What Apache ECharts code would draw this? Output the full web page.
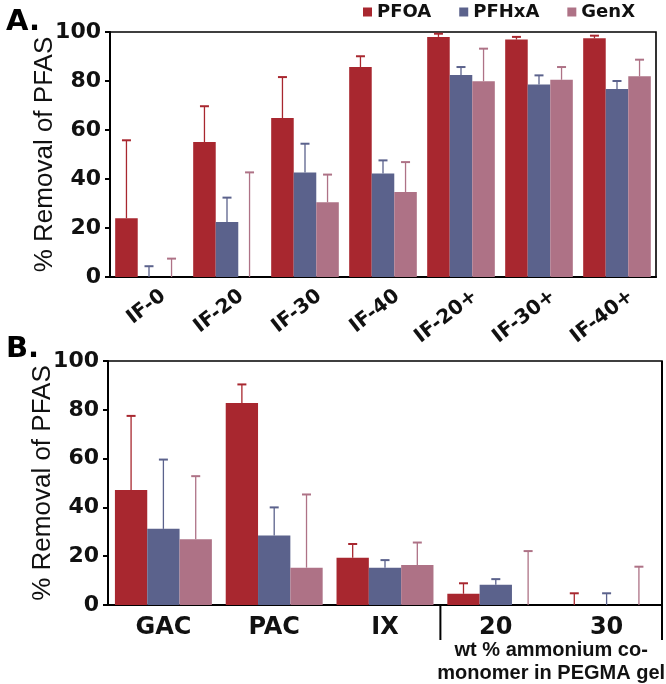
<!DOCTYPE html>
<html><head><meta charset="utf-8">
<script src="https://cdn.jsdelivr.net/npm/echarts@6/dist/echarts.min.js"></script>
<style>html,body{margin:0;padding:0;background:#fff}#c{width:666px;height:684px}</style>
</head><body><div id="c"></div>
<script>
const seriesNames = ['PFOA', 'PFHxA', 'GenX'];
const colors = ['#a8272f', '#5b628c', '#ae7286'];

// Panel A
const categoriesA = ['IF-0', 'IF-20', 'IF-30', 'IF-40', 'IF-20+', 'IF-30+', 'IF-40+'];
const pfoaA = [24, 55.1, 64.9, 85.7, 98, 96.9, 97.4];
const pfhxaA = [0, 22.4, 42.7, 42.2, 82.4, 78.6, 76.7];
const genxA = [0, 0, 30.5, 34.7, 79.9, 80.5, 81.9];
const pfoaErrA = [31.8, 14.6, 16.7, 4.4, 1.3, 1.1, 1.1];
const pfhxaErrA = [4.4, 10, 11.7, 5.4, 3.3, 3.7, 3.3];
const genxErrA = [7.5, 42.7, 11.3, 12.2, 13.3, 5.2, 6.8];

// Panel B
const categoriesB = ['GAC', 'PAC', 'IX', '20', '30'];
const pfoaB = [47.1, 82.8, 19.4, 4.6, 0];
const pfhxaB = [31.2, 28.5, 15.3, 8.3, 0];
const genxB = [26.9, 15.3, 16.4, 0, 0];
const pfoaErrB = [30.4, 7.6, 5.6, 4.3, 4.8];
const pfhxaErrB = [28.4, 11.5, 3.1, 2.3, 4.8];
const genxErrB = [25.9, 30, 9.2, 22.1, 15.7];

const yTicks = [0, 20, 40, 60, 80, 100];
const captionLines = ['wt % ammonium co-', 'monomer in PEGMA gel'];

const gapA = 0.133, gapB = 0.125;
const boldWide = 'DejaVu Sans';

function errRender(sIdx, gap) {
  return function (params, api) {
    const x = api.value(0), v = api.value(1), e = api.value(2);
    const base = api.coord([x, v]);
    const top = api.coord([x, v + e]);
    const band = api.size([1, 0])[0];
    const bw = band * (1 - gap) / 3;
    const cx = base[0] + (sIdx - 1) * bw;
    const hw = 4.5;
    return { type: 'group', children: [
      { type: 'line', shape: { x1: cx, y1: base[1], x2: cx, y2: top[1] }, style: { stroke: colors[sIdx], lineWidth: 1.3 } },
      { type: 'line', shape: { x1: cx - hw, y1: top[1], x2: cx + hw, y2: top[1] }, style: { stroke: colors[sIdx], lineWidth: 2 } }
    ] };
  };
}

const valsA = [pfoaA, pfhxaA, genxA], errsA = [pfoaErrA, pfhxaErrA, genxErrA];
const valsB = [pfoaB, pfhxaB, genxB], errsB = [pfoaErrB, pfhxaErrB, genxErrB];

const series = [];
[0, 1].forEach(function (p) {
  const vals = p === 0 ? valsA : valsB;
  const errs = p === 0 ? errsA : errsB;
  const gap = p === 0 ? gapA : gapB;
  seriesNames.forEach(function (n, i) {
    series.push({
      name: 'err' + p + i, type: 'custom', xAxisIndex: p, yAxisIndex: p,
      renderItem: errRender(i, gap), encode: { x: 0, y: 1 }, z: 1,
      data: vals[i].map(function (v, k) { return [k, v, errs[i][k]]; }),
      silent: true
    });
  });
  seriesNames.forEach(function (n, i) {
    series.push({
      name: n, type: 'bar', xAxisIndex: p, yAxisIndex: p, z: 2,
      barGap: 0, barCategoryGap: (gap * 100) + '%',
      itemStyle: { color: colors[i] },
      data: vals[i]
    });
  });
});

function yAxis(gridIndex) {
  return {
    type: 'value', gridIndex: gridIndex, min: yTicks[0], max: yTicks[yTicks.length - 1], interval: 20,
    name: '% Removal of PFAS', nameLocation: 'middle', nameGap: 52, nameMoveOverlap: false,
    nameTextStyle: { fontFamily: 'Liberation Sans', fontSize: 26, color: '#111' },
    axisLine: { show: true, lineStyle: { color: '#000', width: 2 } },
    axisTick: { show: true, length: 5, lineStyle: { color: '#000', width: 2 } },
    axisLabel: { fontFamily: boldWide, fontWeight: 'bold', fontSize: 22, color: '#111', margin: 9 },
    splitLine: { show: false }
  };
}

const option = {
  animation: false,
  backgroundColor: '#fff',
  title: [
    { text: 'A.', left: 1, top: 3, textStyle: { fontFamily: boldWide, fontWeight: 'bold', fontSize: 29, color: '#000' } },
    { text: 'B.', left: 1, top: 330, textStyle: { fontFamily: boldWide, fontWeight: 'bold', fontSize: 29, color: '#000' } }
  ],
  legend: {
    data: seriesNames, left: 363, top: 3, icon: 'rect', itemWidth: 9, itemHeight: 9, itemGap: 28, padding: 0,
    textStyle: { fontFamily: boldWide, fontWeight: 'bold', fontSize: 18, color: '#111' }
  },
  grid: [
    { left: 110, top: 32, width: 546, height: 245, show: true, borderColor: '#000', borderWidth: 1.6, backgroundColor: 'transparent' },
    { left: 108, top: 361, width: 554, height: 244, show: true, borderColor: '#000', borderWidth: 1.6, backgroundColor: 'transparent' }
  ],
  xAxis: [
    {
      type: 'category', gridIndex: 0, data: categoriesA,
      axisLine: { lineStyle: { color: '#000', width: 2 } }, axisTick: { show: false },
      axisLabel: { interval: 0, rotate: 38, fontFamily: boldWide, fontWeight: 'bold', fontSize: 20, color: '#111', margin: 28, padding: [0, -18, 0, 0] }
    },
    {
      type: 'category', gridIndex: 1, data: categoriesB,
      axisLine: { lineStyle: { color: '#000', width: 2 } }, axisTick: { show: false },
      axisLabel: { interval: 0, fontFamily: boldWide, fontWeight: 'bold', fontSize: 24, color: '#111', margin: 11 }
    }
  ],
  yAxis: [yAxis(0), yAxis(1)],
  series: series
};

const chart = echarts.init(document.getElementById('c'), null, { renderer: 'canvas' });
chart.setOption(option);

// decorations for panel B derived from the axis scales
const x20 = chart.convertToPixel({ xAxisIndex: 1 }, categoriesB[3]);
const x30 = chart.convertToPixel({ xAxisIndex: 1 }, categoriesB[4]);
const half = (x30 - x20) / 2;
const y0 = chart.convertToPixel({ yAxisIndex: 1 }, 0);
const yTop = chart.convertToPixel({ yAxisIndex: 1 }, 100);
const lineStyle = { stroke: '#000', lineWidth: 2 };
chart.setOption({
  graphic: [
    { type: 'line', shape: { x1: x20 - half, y1: y0, x2: x20 - half, y2: y0 + 35 }, style: lineStyle },
    { type: 'line', shape: { x1: x30 + half, y1: yTop, x2: x30 + half, y2: y0 + 35 }, style: lineStyle },
    { type: 'text', x: (x20 + x30) / 2, y: y0 + 45, style: { text: captionLines[0], fontFamily: 'Liberation Sans', fontWeight: 'bold', fontSize: 20, fill: '#111', align: 'center', verticalAlign: 'middle' } },
    { type: 'text', x: (x20 + x30) / 2, y: y0 + 68, style: { text: captionLines[1], fontFamily: 'Liberation Sans', fontWeight: 'bold', fontSize: 20, fill: '#111', align: 'center', verticalAlign: 'middle' } }
  ]
});
</script></body></html>
